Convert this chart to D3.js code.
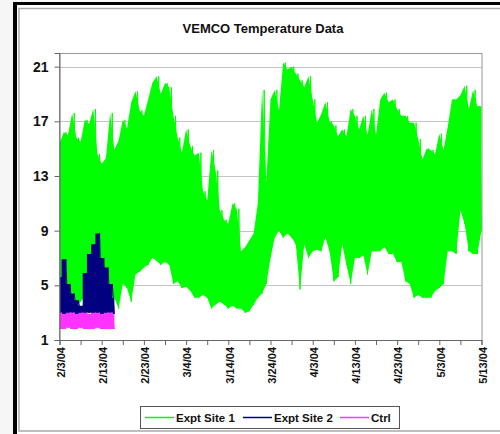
<!DOCTYPE html>
<html>
<head>
  <meta charset="UTF-8">
  <style>
    body {
      margin: 0;
      background: #f6f6f6;
      font-family: 'Liberation Sans', Arial, sans-serif;
    }
    svg { display: block; }
    .axis text {
      font-weight: bold;
      fill: #111;
    }
    .legend text {
      font-size: 11.5px;
      font-weight: bold;
      fill: #111;
    }
  </style>
  <script src="https://cdn.jsdelivr.net/npm/d3@7"></script>
</head>
<body>
<div id="chart"></div>
<script>
// Daily low / high readings, index = days since 2/3/04
const startDate = new Date(2004, 1, 3);
const endDate = new Date(2004, 4, 13);

const site1Low = [
  5.5, 4.8, 3.6, 4.5, 3.6, 3.8, 4.2, 4.5, 4.3, 4.8,
  4.5, 4.1, 4.3, 4.1, 3.3, 5.1, 4.8, 3.8, 5.8, 6.0,
  6.3, 6.5, 7.0, 6.8, 6.5, 6.7, 6.5, 5.1, 5.3, 4.8,
  4.9, 4.6, 4.1, 4.1, 4.3, 4.1, 3.3, 3.6, 3.8, 3.6,
  3.3, 3.5, 3.3, 3.3, 3.0, 3.1, 3.6, 4.1, 4.4, 5.1,
  7.0, 8.5, 9.0, 8.5, 8.8, 8.5, 8.0, 4.7, 8.0, 7.0,
  7.5, 7.6, 7.5, 8.5, 7.5, 5.3, 5.6, 8.0, 6.5, 5.1,
  7.0, 7.0, 7.2, 5.8, 7.5, 7.5, 7.5, 7.8, 7.3, 7.3,
  6.7, 6.7, 5.3, 5.1, 4.1, 4.3, 4.1, 4.1, 4.1, 4.6,
  4.8, 5.1, 7.5, 7.5, 7.3, 10.5, 9.5, 7.5, 7.3, 7.3,
  9.0
];
const site1High = [
  15.4, 16.2, 16.0, 17.6, 15.8, 15.5, 17.1, 16.8, 17.9, 14.6,
  13.9, 14.3, 17.6, 14.9, 15.6, 17.1, 16.5, 18.4, 19.2, 17.8,
  17.4, 18.6, 19.8, 20.3, 19.0, 19.8, 19.5, 17.4, 15.8, 14.7,
  16.4, 15.2, 14.5, 14.7, 11.9, 11.2, 14.9, 13.4, 10.5, 9.8,
  9.5, 11.0, 10.6, 7.5, 7.8, 8.3, 8.8, 11.0, 19.3, 12.5,
  18.6, 19.3, 17.8, 21.3, 20.8, 21.0, 20.5, 20.0, 19.5, 20.3,
  18.6, 16.9, 17.5, 18.4, 17.0, 16.7, 15.9, 16.4, 15.9, 17.9,
  17.4, 16.4, 17.4, 16.0, 17.9, 16.0, 18.6, 19.1, 18.4, 18.6,
  17.9, 17.4, 17.4, 16.9, 16.9, 15.7, 14.2, 15.0, 14.9, 14.6,
  16.1, 14.9, 16.6, 18.6, 18.6, 18.9, 19.6, 17.9, 19.3, 18.1,
  18.1
];
const site2Low = [2.9, 2.9, 2.9, 3.0, 2.9, 2.9, 2.9, 3.0, 2.9, 2.9, 2.9, 2.9, 3.0, 2.9];
const site2High = [5.6, 6.9, 5.1, 4.4, 3.9, 3.5, 5.9, 7.3, 8.0, 8.8, 7.0, 6.3, 5.1, 4.1];
const ctrlLow = [1.8, 1.8, 1.9, 1.8, 1.8, 1.9, 1.8, 1.8, 1.8, 1.9, 1.8, 1.8, 1.8, 1.8];
const ctrlHigh = [3.0, 2.9, 3.0, 3.0, 2.9, 3.0, 3.0, 2.9, 3.0, 3.0, 2.9, 3.0, 3.0, 2.9];

const yTicks = [1, 5, 9, 13, 17, 21];
const seriesNames = ['Expt Site 1', 'Expt Site 2', 'Ctrl'];
const seriesColors = ['#00ff00', '#000080', '#ff33ff'];

const width = 500, height = 434;
const plot = { left: 59.5, right: 481.5, top: 53, bottom: 340 };

const svg = d3.select('#chart').append('svg')
  .attr('width', width)
  .attr('height', height);

// outer frame (black) and chart area (white with gray border)
svg.append('rect').attr('x', 13).attr('y', 2).attr('width', width).attr('height', height).attr('fill', '#fff');
svg.append('line').attr('x1', 15).attr('x2', 15).attr('y1', 2).attr('y2', height).attr('stroke', '#000').attr('stroke-width', 4);
svg.append('line').attr('x1', 13).attr('x2', width).attr('y1', 3.5).attr('y2', 3.5).attr('stroke', '#000').attr('stroke-width', 3);
svg.append('rect').attr('x', 19).attr('y', 8.5).attr('width', 500).attr('height', 422.5)
  .attr('fill', 'none').attr('stroke', '#aaa').attr('stroke-width', 1.5);

svg.append('text')
  .attr('x', 263).attr('y', 32.5)
  .attr('text-anchor', 'middle')
  .style('font-size', '13px').style('font-weight', 'bold').style('fill', '#111')
  .text('VEMCO Temperature Data');

const x = d3.scaleTime().domain([startDate, endDate]).range([plot.left, plot.right]);
const y = d3.scaleLinear().domain([1, 22]).range([plot.bottom, plot.top]);

// gridlines
svg.append('g').selectAll('line')
  .data(yTicks.slice(1))
  .join('line')
  .attr('x1', plot.left).attr('x2', plot.right + 0.5)
  .attr('y1', d => Math.round(y(d)) + 0.5).attr('y2', d => Math.round(y(d)) + 0.5)
  .attr('stroke', '#c4c4c4');

svg.append('defs').append('clipPath').attr('id', 'clip')
  .append('rect')
  .attr('x', plot.left).attr('y', plot.top)
  .attr('width', plot.right - plot.left + 0.5).attr('height', plot.bottom - plot.top);

function toDays(low, high) {
  return low.map((lo, i) => ({ date: d3.timeDay.offset(startDate, i), lo, hi: high[i] }));
}
// low reading then high reading half a day later
function toZigzag(low, high) {
  const pts = [];
  low.forEach((lo, i) => {
    const day = d3.timeDay.offset(startDate, i);
    pts.push({ date: day, v: lo });
    if (i < low.length - 1) pts.push({ date: d3.timeHour.offset(day, 12), v: high[i] });
  });
  return pts;
}

const line = d3.line().x(d => x(d.date)).y(d => y(d.v));
const series = [
  { low: site1Low, high: site1High, curve: d3.curveLinear },
  { low: site2Low, high: site2High, curve: d3.curveStep },
  { low: ctrlLow, high: ctrlHigh, curve: d3.curveStep }
];

const marks = svg.append('g').attr('clip-path', 'url(#clip)');
series.forEach((s, i) => {
  const area = d3.area().curve(s.curve)
    .x(d => x(d.date)).y0(d => y(d.lo)).y1(d => y(d.hi));
  marks.append('path')
    .attr('d', area(toDays(s.low, s.high)))
    .attr('fill', seriesColors[i]);
  marks.append('path')
    .attr('d', line(toZigzag(s.low, s.high)))
    .attr('fill', 'none')
    .attr('stroke', seriesColors[i])
    .attr('stroke-width', 1);
});

// plot area border
svg.append('rect')
  .attr('x', plot.left).attr('y', plot.top + 0.5)
  .attr('width', plot.right - plot.left + 0.5).attr('height', plot.bottom - plot.top)
  .attr('fill', 'none').attr('stroke', '#999');

// axes
const xTickDates = d3.range(0, 101, 5).map(d => d3.timeDay.offset(startDate, d));
const fmt = d3.timeFormat('%-m/%-d/%y');
const xAxis = d3.axisBottom(x)
  .tickValues(xTickDates)
  .tickSize(5)
  .tickFormat((d, i) => i % 2 === 0 ? fmt(d) : '');

const gx = svg.append('g').attr('class', 'axis')
  .attr('transform', `translate(0,${plot.bottom})`)
  .call(xAxis);
gx.select('.domain').attr('stroke', '#666');
gx.selectAll('.tick line').attr('stroke', '#666');
gx.selectAll('text')
  .style('font-size', '11px')
  .attr('text-anchor', 'end')
  .attr('transform', 'rotate(-90)')
  .attr('x', -7)
  .attr('y', 1)
  .attr('dy', '0.35em');

const gy = svg.append('g').attr('class', 'axis')
  .attr('transform', `translate(${plot.left},0)`)
  .call(d3.axisLeft(y).tickValues(yTicks).tickSize(5).tickPadding(6).tickFormat(d3.format('d')));
gy.select('.domain').attr('stroke', '#666');
gy.selectAll('.tick line').attr('stroke', '#666');
gy.selectAll('text').style('font-size', '14px');

// legend
const legend = svg.append('g').attr('class', 'legend');
legend.append('rect')
  .attr('x', 140.5).attr('y', 406.5).attr('width', 259).attr('height', 22)
  .attr('fill', '#fff').attr('stroke', '#555');
const legendX = [145, 243, 340];
const item = legend.selectAll('g.item')
  .data(seriesNames)
  .join('g').attr('class', 'item')
  .attr('transform', (d, i) => `translate(${legendX[i]},417.5)`);
item.append('line')
  .attr('x1', 0).attr('x2', 29)
  .attr('stroke', (d, i) => seriesColors[i]).attr('stroke-width', 1.5);
item.append('text')
  .attr('x', 31).attr('dy', '0.35em')
  .text(d => d);
</script>
</body>
</html>
